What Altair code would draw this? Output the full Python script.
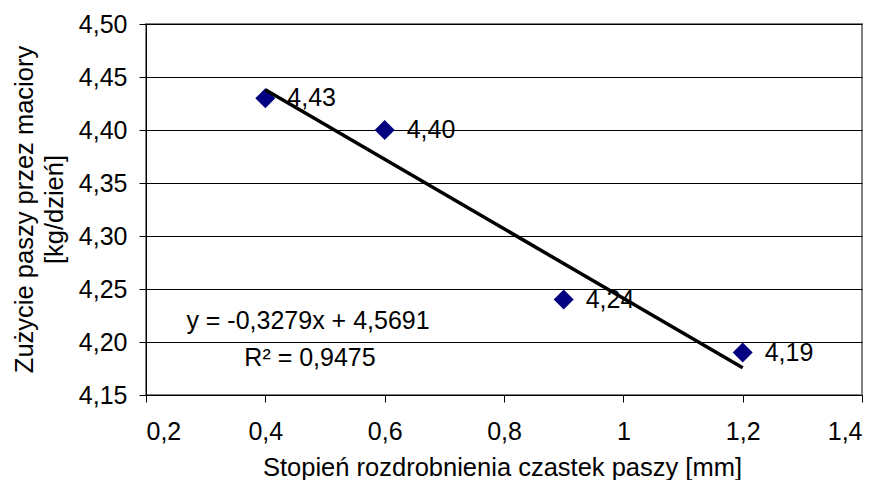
import altair as alt
import pandas as pd

# ---- data ----
x_vals = [0.4, 0.6, 0.9, 1.2]
y_vals = [4.43, 4.40, 4.24, 4.19]
x_ticks = [0.2, 0.4, 0.6, 0.8, 1.0, 1.2, 1.4]
y_ticks = [4.15, 4.20, 4.25, 4.30, 4.35, 4.40, 4.45, 4.50]
eq_text = "y = -0,3279x + 4,5691"
r2_text = "R² = 0,9475"
x_title = "Stopień rozdrobnienia czastek paszy [mm]"
y_title = ["Zużycie paszy przez maciory", "[kg/dzień]"]

df = pd.DataFrame({"x": x_vals, "y": y_vals})
df["label"] = [f"{v:.2f}".replace(".", ",") for v in y_vals]

FONT = "Liberation Sans"
FS = 25
FT = 25.5
W, H = 716, 371

xscale = alt.Scale(domain=[x_ticks[0], x_ticks[-1]], nice=False, zero=False)
yscale = alt.Scale(domain=[y_ticks[0], y_ticks[-1]], nice=False, zero=False)

xaxis = alt.Axis(
    values=x_ticks,
    labelExpr="replace(format(datum.value, '~g'), '.', ',')",
    grid=False,
    domainColor="black",
    domainWidth=1,
    tickColor="black",
    tickSize=7,
    labelFont=FONT,
    labelFontSize=FS,
    labelColor="black",
    labelPadding=17,
    title=x_title,
    titleFont=FONT,
    titleFontSize=FT,
    titleFontWeight="normal",
    titleColor="black",
    titleBaseline="alphabetic",
    titleX=356,
    titleY=80,
)

yaxis = alt.Axis(
    values=y_ticks,
    labelExpr="replace(format(datum.value, '.2f'), '.', ',')",
    grid=True,
    gridColor="black",
    gridWidth=1,
    domainColor="black",
    domainWidth=1,
    tickColor="black",
    tickSize=7,
    labelFont=FONT,
    labelFontSize=FS,
    labelColor="black",
    labelPadding=12,
    title=y_title,
    titleFont=FONT,
    titleFontSize=FT,
    titleFontWeight="normal",
    titleColor="black",
    titleLineHeight=30,
    titleBaseline="top",
    titleAngle=270,
    titleX=-134,
    titleY=185,
)

base = alt.Chart(df)

points = base.mark_point(
    shape="diamond", size=400, filled=True, color="#000080", opacity=1
).encode(
    x=alt.X("x:Q", scale=xscale, axis=xaxis),
    y=alt.Y("y:Q", scale=yscale, axis=yaxis),
)

labels = base.mark_text(
    align="left", baseline="middle", dx=22, font=FONT, fontSize=FS, color="black"
).encode(
    x=alt.X("x:Q", scale=xscale),
    y=alt.Y("y:Q", scale=yscale),
    text="label:N",
)

trend = base.transform_regression("x", "y", method="linear").mark_line(
    color="black", strokeWidth=3.5
).encode(
    x=alt.X("x:Q", scale=xscale),
    y=alt.Y("y:Q", scale=yscale),
)

eq1 = alt.Chart(alt.Data(values=[{}])).mark_text(
    text=eq_text, align="center", baseline="alphabetic", font=FONT, fontSize=FS, color="black"
).encode(x=alt.value(162), y=alt.value(305))

eq2 = alt.Chart(alt.Data(values=[{}])).mark_text(
    text=r2_text, align="center", baseline="alphabetic", font=FONT, fontSize=FS, color="black"
).encode(x=alt.value(164), y=alt.value(342))

chart = (
    alt.layer(points, labels, trend, eq1, eq2)
    .properties(
        width=W,
        height=H,
        autosize=alt.AutoSizeParams(type="none"),
        padding={"left": 138, "top": 16, "right": 10, "bottom": 85},
        background="white",
    )
    .configure_view(stroke="#808080", strokeWidth=2)
)

chart.save("out.html", embed_options={"renderer": "svg", "actions": False})
